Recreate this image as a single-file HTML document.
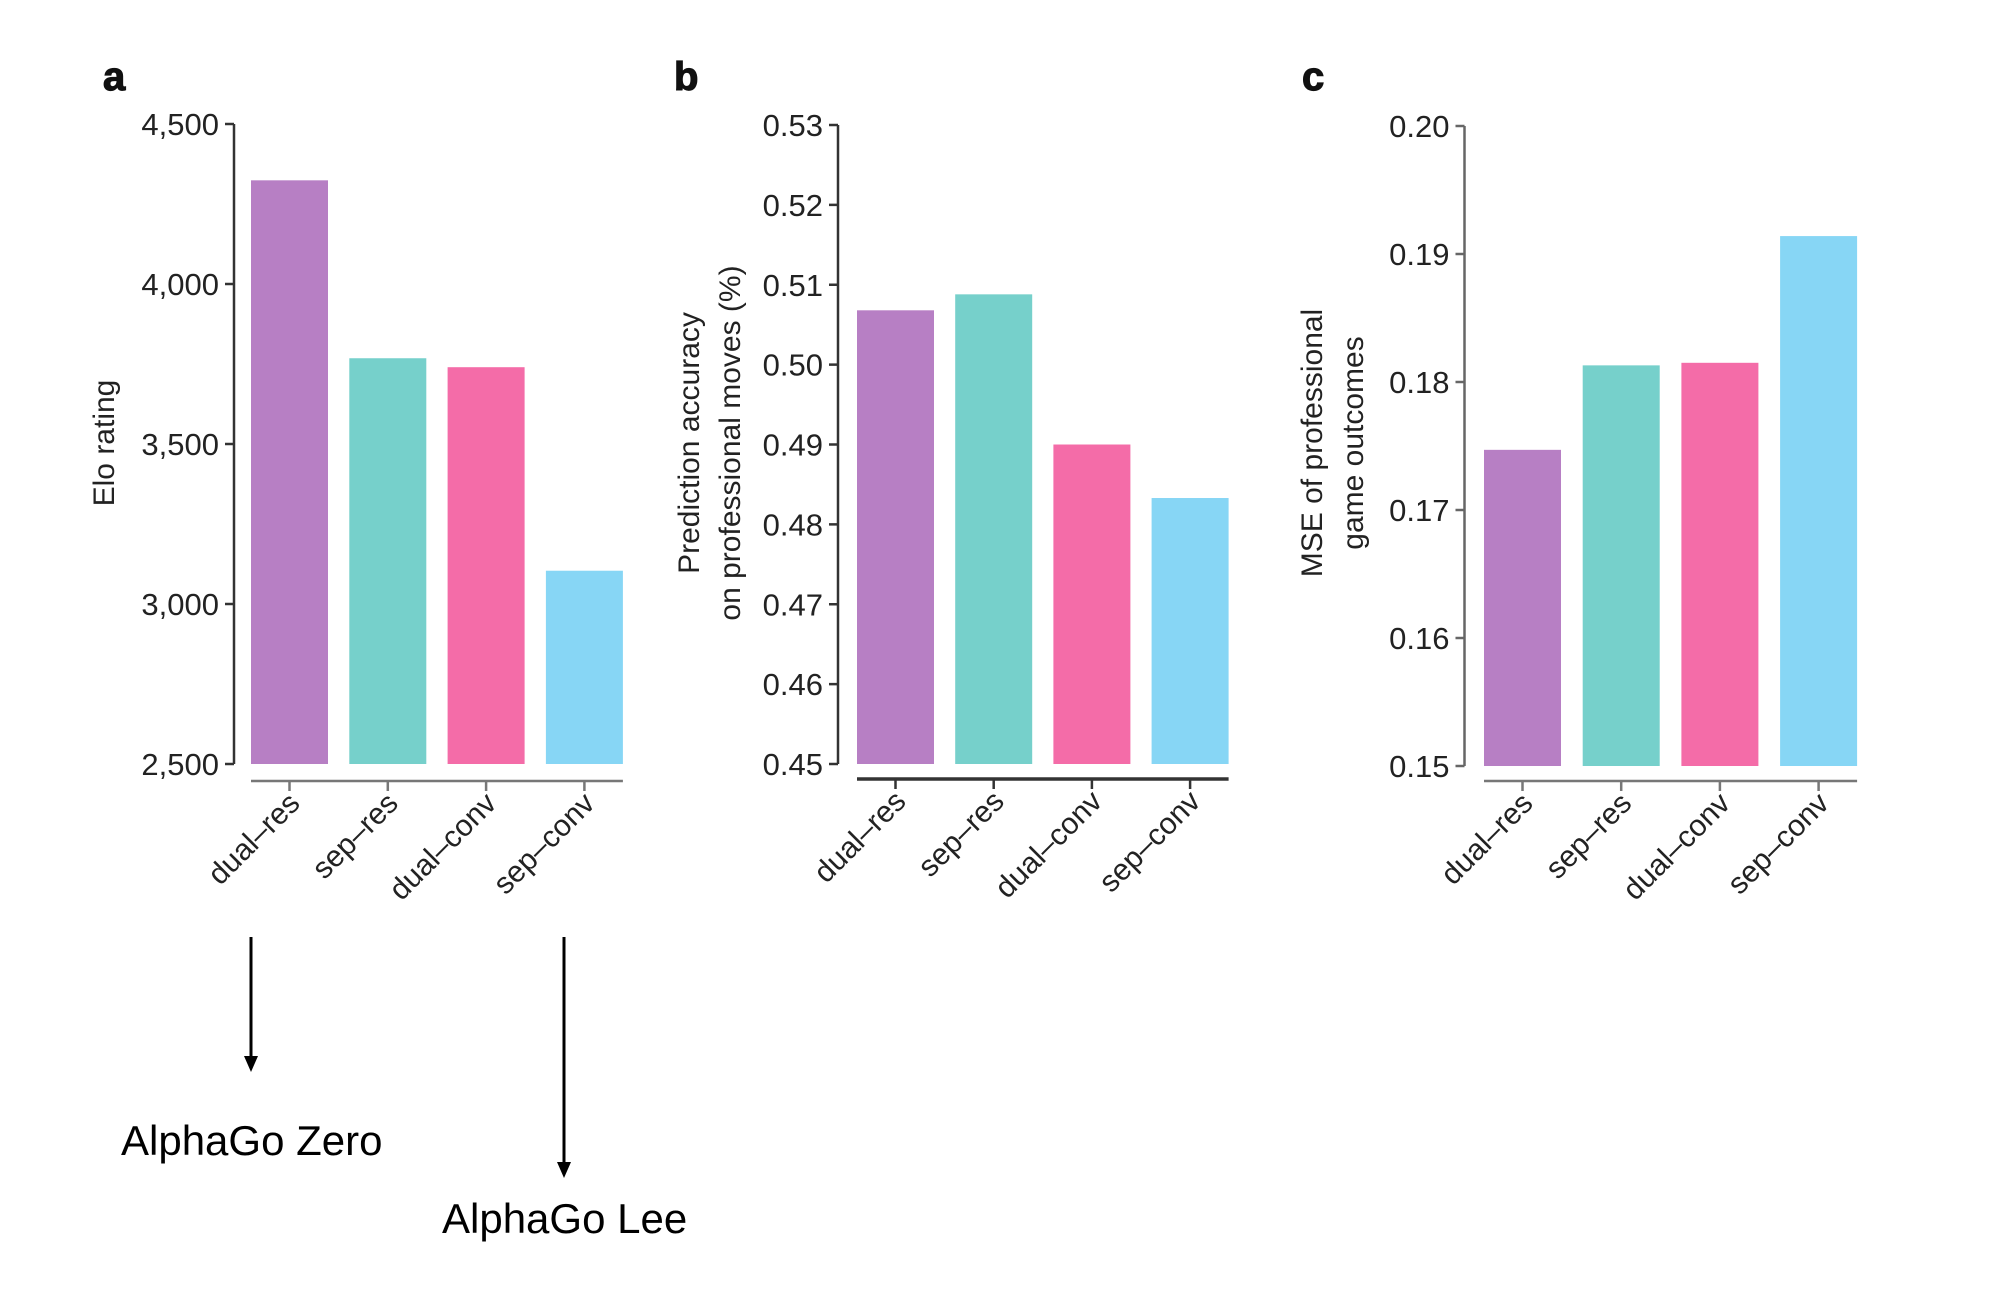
<!DOCTYPE html>
<html><head><meta charset="utf-8"><style>
html,body{margin:0;padding:0;background:#fff;}
svg{display:block;font-family:"Liberation Sans",Arial,sans-serif;}
</style></head><body>
<svg id="fig" width="2000" height="1311" viewBox="0 0 2000 1311" xmlns="http://www.w3.org/2000/svg">
<rect width="2000" height="1311" fill="#fff"/>
<g id="annot">
  <line x1="251" y1="937" x2="251" y2="1058" stroke="#000" stroke-width="3"/>
  <polygon points="244,1056 258,1056 251,1072" fill="#000"/>
  <text x="121" y="1155" font-size="42" fill="#000">AlphaGo Zero</text>
  <line x1="564" y1="937" x2="564" y2="1164" stroke="#000" stroke-width="3"/>
  <polygon points="557,1162 571,1162 564,1178" fill="#000"/>
  <text x="442" y="1233" font-size="42" fill="#000">AlphaGo Lee</text>
</g>
</svg>
<script>
const categories = ["dual–res","sep–res","dual–conv","sep–conv"];
const colors = ["#b77fc4","#76d0cb","#f46ca8","#87d6f5"];
const eloValues = [4324, 3768, 3740, 3104];
const eloTicks = [2500, 3000, 3500, 4000, 4500];
const eloTickLabels = ["2,500","3,000","3,500","4,000","4,500"];
const accValues = [0.5068, 0.5088, 0.4900, 0.4833];
const accTicks = [0.45,0.46,0.47,0.48,0.49,0.50,0.51,0.52,0.53];
const accTickLabels = ["0.45","0.46","0.47","0.48","0.49","0.50","0.51","0.52","0.53"];
const mseValues = [0.1747, 0.1813, 0.1815, 0.1914];
const mseTicks = [0.15,0.16,0.17,0.18,0.19,0.20];
const mseTickLabels = ["0.15","0.16","0.17","0.18","0.19","0.20"];

const NS = "http://www.w3.org/2000/svg";
const svg = document.getElementById("fig");
function mk(tag, attrs, parent){
  const e = document.createElementNS(NS, tag);
  for (const k in attrs) e.setAttribute(k, attrs[k]);
  (parent||svg).appendChild(e);
  return e;
}
function panel(cfg){
  const g = mk("g", {});
  
  
  const y = v => cfg.y0 + (v - cfg.min) / (cfg.max - cfg.min) * (cfg.y1 - cfg.y0);
  const xC = i => cfg.xStart + cfg.step * i + cfg.barW / 2;
  const L = mk("text", {x: cfg.letterX, y: 90, "font-size": 40, "font-weight": "900", fill: "#111", stroke: "#111", "stroke-width": 1.2}, g);
  L.textContent = cfg.letter;
  
  
  const ax = mk("line", {x1: cfg.axX, x2: cfg.axX, y1: y(cfg.max), y2: y(cfg.min), stroke: cfg.axColor, "stroke-width": 2.5}, g);
  
  
  cfg.ticks.forEach((t, i) => {
    const tk = mk("line", {x1: cfg.axX - 9, x2: cfg.axX, y1: y(t), y2: y(t), stroke: cfg.axColor, "stroke-width": 2.5}, g);
    
    
    const tl = mk("text", {x: cfg.axX - 15, y: y(t) + 11, "font-size": 31, "text-anchor": "end", fill: "#222"}, g);
    tl.textContent = cfg.tickLabels[i];
    
    
  });
  cfg.values.forEach((v, i) => {
    const x = cfg.xStart + cfg.step * i;
    const b = mk("rect", {x: x, y: y(v), width: cfg.barW, height: y(cfg.min) - y(v), fill: colors[i]}, g);
    
    
  });
  const xa = mk("line", {x1: cfg.xStart, x2: cfg.xStart + cfg.step * 3 + cfg.barW, y1: cfg.xAxY, y2: cfg.xAxY, stroke: cfg.xAxColor, "stroke-width": cfg.xAxW}, g);
  
  
  categories.forEach((c, i) => {
    const tk = mk("line", {x1: xC(i), x2: xC(i), y1: cfg.xAxY, y2: cfg.xAxY + 10, stroke: cfg.xAxColor, "stroke-width": 2.5}, g);
    
    
    const tx = xC(i) + 12, ty = cfg.xAxY + 24;
    const tl = mk("text", {x: tx, y: ty, "font-size": 30, "text-anchor": "end", fill: "#222", transform: `rotate(-45 ${tx} ${ty})`}, g);
    tl.textContent = c;
    
    
  });
  cfg.title.forEach((line, k) => {
    const bx = cfg.titleX[k], by = 443;
    const t = mk("text", {x: bx, y: by, "font-size": 30, "text-anchor": "middle", fill: "#222", transform: `rotate(-90 ${bx} ${by})`}, g);
    t.textContent = line;
    
    
  });
}
panel({name: "panel-a-elo", letter: "a", letterX: 103, axX: 234, min: 2500, max: 4500, y0: 764, y1: 124,
  values: eloValues, ticks: eloTicks, tickLabels: eloTickLabels, xStart: 251, step: 98.3, barW: 77,
  xAxY: 781, xAxColor: "#777", xAxW: 2.5, axColor: "#333", title: ["Elo rating"], titleX: [114]});
panel({name: "panel-b-accuracy", letter: "b", letterX: 674, axX: 838, min: 0.45, max: 0.53, y0: 764, y1: 125,
  values: accValues, ticks: accTicks, tickLabels: accTickLabels, xStart: 857, step: 98.2, barW: 77,
  xAxY: 779, xAxColor: "#333", xAxW: 3.5, axColor: "#333", title: ["Prediction accuracy","on professional moves (%)"], titleX: [699, 740]});
panel({name: "panel-c-mse", letter: "c", letterX: 1302, axX: 1464.5, min: 0.15, max: 0.20, y0: 766, y1: 126,
  values: mseValues, ticks: mseTicks, tickLabels: mseTickLabels, xStart: 1484, step: 98.7, barW: 77,
  xAxY: 781, xAxColor: "#777", xAxW: 2.5, axColor: "#666", title: ["MSE of professional","game outcomes"], titleX: [1322, 1363]});
</script>
</body></html>
